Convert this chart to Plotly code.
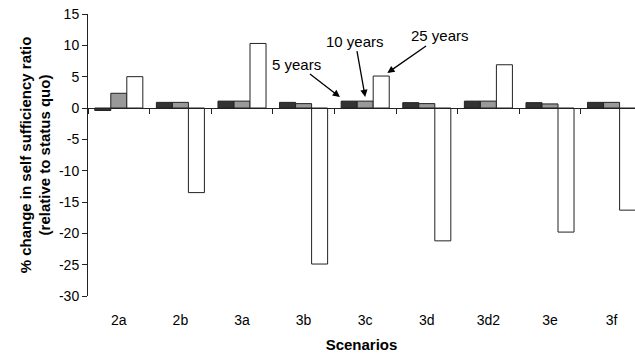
import plotly.graph_objects as go

# Scenario categories and % change in self sufficiency ratio per horizon
scenarios = ["2a", "2b", "3a", "3b", "3c", "3d", "3d2", "3e", "3f"]
years_5 = [-0.4, 0.9, 1.1, 0.9, 1.1, 0.85, 1.1, 0.85, 0.9]
years_10 = [2.35, 0.9, 1.1, 0.7, 1.1, 0.7, 1.1, 0.65, 0.9]
years_25 = [5.0, -13.5, 10.3, -24.9, 5.1, -21.2, 6.9, -19.8, -16.3]

y_ticks = list(range(-30, 20, 5))
y_ticktext = [str(v) for v in y_ticks]
boundaries = [i - 0.5 for i in range(len(scenarios) + 1)]

FONT = "Arial, Liberation Sans, sans-serif"
line = dict(color="#222222", width=1)

fig = go.Figure()
for name, vals, col in [("5 years", years_5, "#333333"),
                        ("10 years", years_10, "#999999"),
                        ("25 years", years_25, "#ffffff")]:
    fig.add_trace(go.Bar(x=scenarios, y=vals, name=name,
                         marker=dict(color=col, line=line)))

# invisible trace carrying the axis drawn along the zero line
fig.add_trace(go.Scatter(x=scenarios, y=[0] * len(scenarios), xaxis="x2",
                         mode="markers", marker=dict(opacity=0),
                         hoverinfo="skip", showlegend=False))

n_vis = 8.38
fig.update_layout(
    width=635, height=356,
    margin=dict(l=88, r=0, t=14, b=60),
    paper_bgcolor="white", plot_bgcolor="white",
    barmode="group", bargap=0.22, bargroupgap=0,
    showlegend=False,
    font=dict(family=FONT, size=14, color="#000000"),
    xaxis=dict(range=[-0.5, n_vis], showline=False, ticks="outside",
               ticklen=0, ticklabelstandoff=11, showgrid=False,
               zeroline=False, tickfont=dict(size=14),
               title=dict(text="<b>Scenarios</b>", standoff=12,
                          font=dict(size=15))),
    xaxis2=dict(overlaying="x", matches="x", anchor="free",
                position=30 / 45, showline=True, linecolor="#222222",
                linewidth=1, ticks="outside", ticklen=5, tickcolor="#222222",
                tickmode="array", tickvals=boundaries, showticklabels=False,
                showgrid=False, zeroline=False),
    yaxis=dict(range=[-30, 15], tickmode="array", tickvals=y_ticks,
               ticktext=y_ticktext, showline=True,
               linecolor="#222222", linewidth=1, ticks="outside", ticklen=5,
               tickcolor="#222222", showgrid=False, zeroline=False,
               tickfont=dict(size=14),
               title=dict(text="<b>% change in self sufficiency ratio<br>"
                               "(relative to status quo)</b>",
                          standoff=4, font=dict(size=15))),
)

# call-outs naming the three horizons on scenario 3c
arrow = dict(showarrow=True, arrowhead=2, arrowsize=1.1, arrowwidth=1.3,
             arrowcolor="#000000", font=dict(size=15))
idx = scenarios.index("3c")
fig.add_annotation(x=idx - 0.41, y=years_5[idx] + 0.65, text="5 years",
                   ax=-43, ay=-33, **arrow)
fig.add_annotation(x=idx, y=years_10[idx] + 0.65, text="10 years",
                   ax=-10, ay=-56, **arrow)
fig.add_annotation(x=idx + 0.36, y=years_25[idx] + 0.5, text="25 years",
                   ax=53, ay=-37, **arrow)

fig.write_html("out.html")
